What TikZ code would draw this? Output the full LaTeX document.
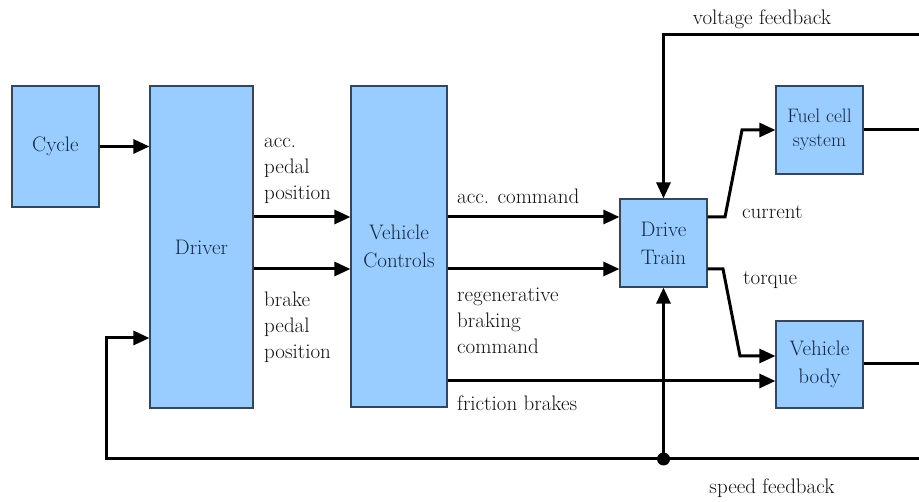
\documentclass[tikz,border=0pt]{standalone}
\usetikzlibrary{arrows.meta}
\definecolor{boxfill}{HTML}{99CCFF}
\definecolor{boxline}{HTML}{34465F}
\definecolor{boxtext}{HTML}{142848}
\definecolor{lbltext}{HTML}{111111}
\tikzset{
  blk/.style={draw=boxline, line width=1.2pt, fill=boxfill, text=boxtext, align=center, inner sep=0pt, font=\fontsize{21}{28}\selectfont},
  arr/.style={line width=3pt, -{Triangle[length=16pt,width=14pt]}},
  ln/.style={line width=3pt},
  lbl/.style={text=lbltext, align=left, inner sep=0pt, font=\fontsize{21}{26}\selectfont}
}
\begin{document}
\begin{tikzpicture}[x=1pt,y=-1pt]
\useasboundingbox (0,0) rectangle (919,502);
% boxes
\node[blk, minimum width=87pt, minimum height=121pt] (Cycle) at (55.5,146.5) {Cycle};
\node[blk, minimum width=103pt, minimum height=322pt] (Driver) at (201.5,247) {Driver};
\node[blk, minimum width=96pt, minimum height=321pt] (VC) at (399,246.5) {Vehicle\\Controls};
\node[blk, minimum width=87pt, minimum height=88pt] (DT) at (663.5,243) {Drive\\Train};
\node[blk, minimum width=87pt, minimum height=88pt, font=\fontsize{19.5}{24}\selectfont] (FC) at (819.5,130) {Fuel cell\\system};
\node[blk, minimum width=87pt, minimum height=87pt] (VB) at (819.5,364.5) {Vehicle\\body};
% helper coordinates
\coordinate (r1) at (0,217);
\coordinate (r2) at (0,269);
\coordinate (r3) at (0,381);
\coordinate (rdrv) at (0,338);
\coordinate (rtq) at (0,356);
\coordinate (ca) at (725,217);
\coordinate (cb) at (742,130);
\coordinate (ta) at (723,269);
\coordinate (tb) at (740,356);
\coordinate (vR) at (919,35);
\coordinate (vL) at (663.5,35);
\coordinate (fR) at (919,130);
\coordinate (bR) at (919,364);
\coordinate (sR) at (919,459);
\coordinate (sL) at (106,459);
\coordinate (sU) at (106,338);
\coordinate (dot) at (663.5,459);
% connectors
\draw[arr] (Cycle.east) -- (Cycle.east -| Driver.west);
\draw[arr] (Driver.east |- r1) -- (VC.west |- r1);
\draw[arr] (Driver.east |- r2) -- (VC.west |- r2);
\draw[arr] (VC.east |- r1) -- (DT.west |- r1);
\draw[arr] (VC.east |- r2) -- (DT.west |- r2);
\draw[arr] (VC.east |- r3) -- (VB.west |- r3);
\draw[arr] (DT.east |- r1) -- (ca) -- (cb) -- (FC.west);
\draw[arr] (DT.east |- r2) -- (ta) -- (tb) -- (VB.west |- rtq);
\draw[arr] (vR) -- (vL) -- (DT.north);
\draw[ln] (FC.east) -- (fR);
\draw[ln] (VB.east |- bR) -- (bR);
\draw[arr] (sR) -- (sL) -- (sU) -- (Driver.west |- rdrv);
\draw[arr] (dot) -- (DT.south);
\fill (dot) circle (6.5pt);
% labels
\node[lbl, anchor=west] (l1) at (264,171) {acc.\\pedal\\position};
\node[lbl, anchor=west] (l2) at (264,327) {brake\\pedal\\position};
\node[lbl, anchor=west] (l3) at (457,196) {acc. command};
\node[lbl, anchor=west] (l4) at (457,321) {regenerative\\braking\\command};
\node[lbl, anchor=west] (l5) at (457,403) {friction brakes};
\node[lbl, anchor=west] (l6) at (742,212) {current};
\node[lbl, anchor=west] (l7) at (743,280) {torque};
\node[lbl] (l8) at (762,19) {voltage feedback};
\node[lbl] (l9) at (772,488) {speed feedback};
\end{tikzpicture}
\end{document}
